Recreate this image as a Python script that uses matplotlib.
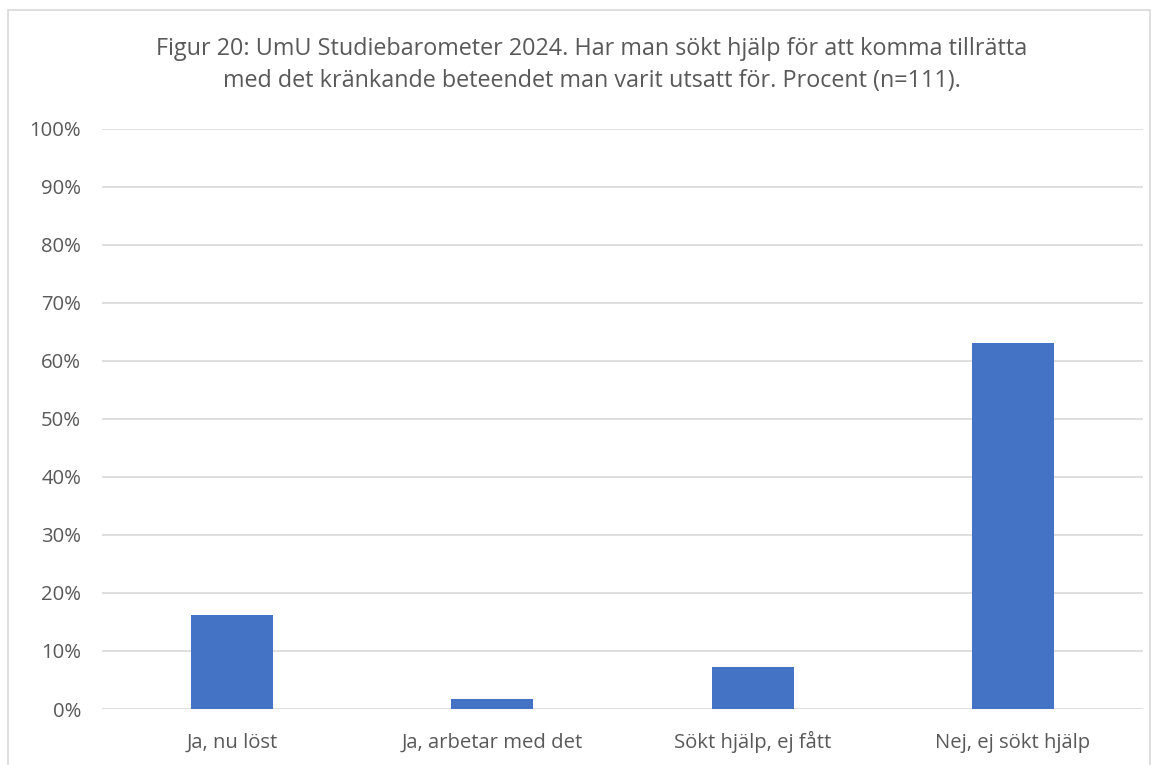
import matplotlib
matplotlib.use("Agg")
import matplotlib.pyplot as plt
from matplotlib.ticker import PercentFormatter
from matplotlib.patches import Rectangle

categories = ["Ja, nu löst", "Ja, arbetar med det", "Sökt hjälp, ej fått", "Nej, ej sökt hjälp"]
values = [16.2, 1.8, 7.2, 63.1]
yticks = list(range(0, 101, 10))
title = ("Figur 20: UmU Studiebarometer 2024. Har man sökt hjälp för att komma tillrätta\n"
         "med det kränkande beteendet man varit utsatt för. Procent (n=111).")

text_col = "#595959"
grid_col = "#D9D9D9"
plt.rcParams["font.family"] = ["Open Sans", "DejaVu Sans"]

fig = plt.figure(figsize=(11.6, 7.65), dpi=100)
ax = fig.add_axes([0.0879, 0.0732, 0.8974, 0.7582])

# chart border
fig.patches.append(Rectangle((8 / 1160, -0.05), 1142 / 1160, 1 - 10 / 765 + 0.05,
                             transform=fig.transFigure, fill=False,
                             edgecolor=grid_col, linewidth=1.2))

x = range(len(categories))
ax.bar(x, values, width=0.315, color="#4472C4", zorder=3)

ax.set_xlim(-0.5, len(categories) - 0.5)
ax.set_ylim(0, 100)
ax.set_yticks(yticks)
ax.yaxis.set_major_formatter(PercentFormatter(decimals=0))
ax.set_xticks(list(x))
ax.set_xticklabels(categories, va="baseline")
ax.grid(axis="y", color=grid_col, linewidth=1.2, zorder=0)
for s in ax.spines.values():
    s.set_visible(False)
ax.tick_params(axis="both", length=0, labelsize=14.6, colors=text_col)
ax.tick_params(axis="y", pad=15)
ax.tick_params(axis="x", pad=28)

fig.text(0.51, 0.915, title, ha="center", va="center", fontsize=16.8,
         color=text_col, linespacing=1.45)

fig.savefig("out.png", dpi=100)
